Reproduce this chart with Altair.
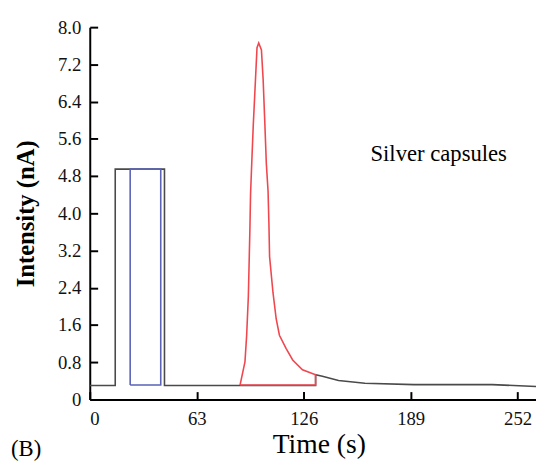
import altair as alt
import pandas as pd

# ---- data ----
gray_t = [0, 15, 15, 44, 44, 88.5, 133, 133, 137, 146.5, 162, 191, 237, 263]
gray_v = [0.30, 0.30, 4.95, 4.95, 0.30, 0.30, 0.30, 0.53, 0.50, 0.41, 0.35, 0.32, 0.32, 0.28]

blue_t = [23.8, 23.8, 41.8, 41.8, 23.8]
blue_v = [0.31, 4.95, 4.95, 0.31, 0.31]

red_t = [88.5, 91.4, 92.4, 93.4, 94.3, 94.7, 95.5, 96.3, 97.8, 98.5, 99.5, 101.1, 102.1,
         103.0, 104.0, 105.0, 105.5, 105.9, 107.9, 109.8, 111.7, 115.6, 119.5, 125.3,
         133.0, 133.0, 88.5]
red_v = [0.31, 0.81, 1.38, 2.22, 3.64, 4.42, 5.18, 5.90, 7.03, 7.56, 7.66, 7.51, 6.88,
         6.04, 5.06, 4.48, 3.79, 3.07, 2.30, 1.73, 1.38, 1.10, 0.85, 0.64,
         0.53, 0.31, 0.31]

y_ticks = [0, 0.8, 1.6, 2.4, 3.2, 4.0, 4.8, 5.6, 6.4, 7.2, 8.0]
x_ticks = [0, 63, 126, 189, 252]

labels_text = ["Silver capsules", "(B)"]
labels_t = [205.5, -37.5]
labels_v = [5.27, -1.07]

W, H = 453, 378
X_MAX, Y_MAX = 262.8, 8.0
TICK_PX = 8
FONT = "Liberation Serif"


def trace(ts, vs):
    return pd.DataFrame({"t": ts, "v": vs, "i": list(range(len(ts)))})


xs = alt.Scale(domain=[0, X_MAX], nice=False, zero=False)
ys = alt.Scale(domain=[0, Y_MAX], nice=False, zero=False)

x_axis = alt.Axis(values=x_ticks, tickSize=0, labelPadding=10, labelFontSize=19,
                  labelFont=FONT, labelColor="#111", domainColor="#000", domainWidth=2,
                  labelOverlap=False,
                  title="Time (s)", titleFont=FONT, titleFontSize=28, titleFontWeight="normal",
                  titleColor="#000", titleX=W / 2 + 6, titleY=54, titleAlign="center",
                  titleBaseline="alphabetic", grid=False)
y_axis = alt.Axis(values=y_ticks, tickSize=0, labelPadding=9, labelFontSize=19,
                  labelFont=FONT, labelColor="#111", domainColor="#000", domainWidth=2,
                  labelOverlap=False,
                  labelExpr="datum.value == 0 ? '0' : format(datum.value, '.1f')",
                  title="Intensity (nA)", titleFont=FONT, titleFontSize=25,
                  titleFontWeight="bold", titleColor="#000", titleX=-57, titleY=H / 2,
                  titleAngle=-90, titleBaseline="alphabetic", titleAlign="center", grid=False)

# second, label-less axes pulled inside the plot so that their ticks point inward
x_tick_axis = alt.Axis(values=x_ticks, orient="bottom", offset=-TICK_PX, tickSize=TICK_PX,
                       tickWidth=2, tickColor="#000", labels=False, domain=False,
                       title="", grid=False)
y_tick_axis = alt.Axis(values=y_ticks, orient="left", offset=-TICK_PX, tickSize=TICK_PX,
                       tickWidth=2, tickColor="#000", labels=False, domain=False,
                       title="", grid=False)


def X(field="t"):
    return alt.X(f"{field}:Q", scale=xs, axis=x_axis)


def Y(field="v"):
    return alt.Y(f"{field}:Q", scale=ys, axis=y_axis)


def line(df, color, width=1.6):
    return alt.Chart(df).mark_line(color=color, strokeWidth=width, clip=False).encode(
        x=X(), y=Y(), order="i:Q")


gray = line(trace(gray_t, gray_v), "#4a4a4a")
blue = line(trace(blue_t, blue_v), "#5a63b8")
red = line(trace(red_t, red_v), "#f0474f")

ann = pd.DataFrame({"txt": labels_text, "t": labels_t, "v": labels_v})
annot = alt.Chart(ann).mark_text(font=FONT, fontSize=23, color="#000", clip=False).encode(
    x=X(), y=Y(), text="txt:N")

main = alt.layer(gray, blue, red, annot)

ticks = alt.Chart(trace(gray_t, gray_v)).mark_point(opacity=0).encode(
    x=alt.X("t:Q", scale=xs, axis=x_tick_axis),
    y=alt.Y("v:Q", scale=ys, axis=y_tick_axis),
)

chart = alt.layer(main, ticks).resolve_axis(x="independent", y="independent").properties(
    width=W, height=H,
    autosize=alt.AutoSizeParams(type="none"),
    padding={"left": 83, "top": 16, "right": 0, "bottom": 60},
).configure(font=FONT).configure_view(stroke=None)

chart.save("out.html", embed_options={"renderer": "svg", "actions": False})
